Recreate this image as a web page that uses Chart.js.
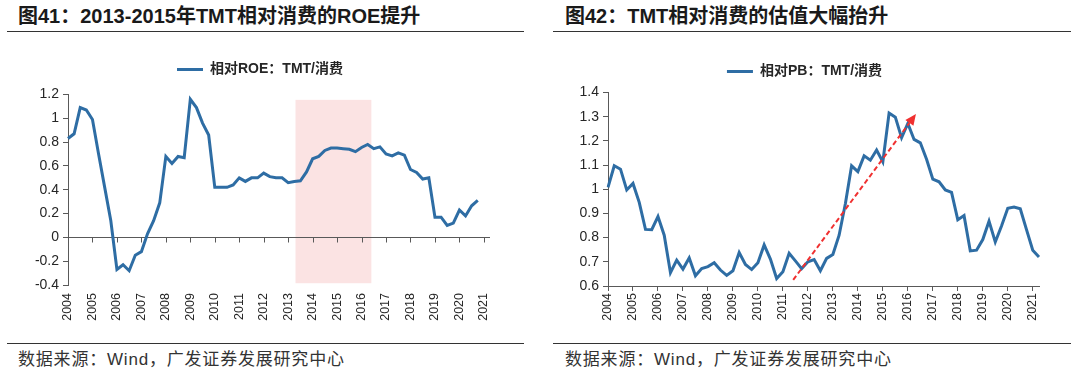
<!DOCTYPE html>
<html>
<head>
<meta charset="utf-8">
<script src="https://cdn.jsdelivr.net/npm/chart.js@4.4.1/dist/chart.umd.min.js"></script>
<style>
  html, body { margin: 0; padding: 0; background: #fff; }
  #page { position: relative; width: 1080px; height: 378px; overflow: hidden; background: #fff;
          font-family: 'Liberation Sans', 'Noto Sans CJK SC', sans-serif; color: #1a1a1a; }
  .title { position: absolute; top: 4px; font-size: 20px; line-height: 24px; font-weight: bold; white-space: nowrap; }
  .rule { position: absolute; height: 0; border-top: 1.5px solid #333; }
  .foot { position: absolute; top: 350px; font-size: 17px; line-height: 20px; letter-spacing: 0.8px; color: #333; white-space: nowrap; }
  .cv { position: absolute; top: 40px; width: 540px; height: 295px; }
</style>
</head>
<body>
<div id="page">
  <div class="title" style="left:18px;">图41：2013-2015年TMT相对消费的ROE提升</div>
  <div class="title" style="left:565px;">图42：TMT相对消费的估值大幅抬升</div>
  <div class="rule" style="left:7px; top:31px; width:517px;"></div>
  <div class="rule" style="left:553px; top:31px; width:518px;"></div>
  <div class="cv" style="left:0px;"><canvas id="c1" width="540" height="295"></canvas></div>
  <div class="cv" style="left:540px;"><canvas id="c2" width="540" height="295"></canvas></div>
  <div class="rule" style="left:7px; top:343px; width:517px;"></div>
  <div class="rule" style="left:553px; top:343px; width:518px;"></div>
  <div class="foot" style="left:18px;">数据来源：Wind，广发证券发展研究中心</div>
  <div class="foot" style="left:565px;">数据来源：Wind，广发证券发展研究中心</div>
</div>
<script>
// ---- categories (quarters) ----
const quarters = [
  '2004Q1','2004Q2','2004Q3','2004Q4','2005Q1','2005Q2','2005Q3','2005Q4',
  '2006Q1','2006Q2','2006Q3','2006Q4','2007Q1','2007Q2','2007Q3','2007Q4',
  '2008Q1','2008Q2','2008Q3','2008Q4','2009Q1','2009Q2','2009Q3','2009Q4',
  '2010Q1','2010Q2','2010Q3','2010Q4','2011Q1','2011Q2','2011Q3','2011Q4',
  '2012Q1','2012Q2','2012Q3','2012Q4','2013Q1','2013Q2','2013Q3','2013Q4',
  '2014Q1','2014Q2','2014Q3','2014Q4','2015Q1','2015Q2','2015Q3','2015Q4',
  '2016Q1','2016Q2','2016Q3','2016Q4','2017Q1','2017Q2','2017Q3','2017Q4',
  '2018Q1','2018Q2','2018Q3','2018Q4','2019Q1','2019Q2','2019Q3','2019Q4',
  '2020Q1','2020Q2','2020Q3','2020Q4','2021Q1','2021Q2'
];

// ---- series: relative ROE (TMT / consumption) ----
const roeRelative = [
  0.83, 0.87, 1.09, 1.07,
  0.99, 0.70, 0.42, 0.14,
  -0.27, -0.23, -0.28, -0.15,
  -0.12, 0.03, 0.14, 0.29,
  0.68, 0.62, 0.68, 0.67,
  1.16, 1.09, 0.96, 0.86,
  0.42, 0.42, 0.42, 0.44,
  0.50, 0.47, 0.50, 0.50,
  0.54, 0.51, 0.50, 0.50,
  0.46, 0.47, 0.475, 0.55,
  0.66, 0.68, 0.73, 0.75,
  0.75, 0.745, 0.74, 0.72,
  0.755, 0.78, 0.745, 0.76,
  0.70, 0.685, 0.71, 0.69,
  0.57, 0.545, 0.49, 0.50,
  0.17, 0.17, 0.10, 0.12,
  0.23, 0.18, 0.265, 0.31,
  null, null
];

// ---- series: relative PB (TMT / consumption) ----
const pbRelative = [
  1.008, 1.097, 1.083, 0.997,
  1.024, 0.946, 0.834, 0.833,
  0.887, 0.810, 0.655, 0.707,
  0.670, 0.716, 0.642, 0.672,
  0.680, 0.696, 0.666, 0.644,
  0.663, 0.738, 0.689, 0.668,
  0.696, 0.770, 0.711, 0.631,
  0.659, 0.735, 0.704, 0.672,
  0.700, 0.709, 0.663, 0.714,
  0.730, 0.810, 0.940, 1.097,
  1.073, 1.138, 1.120, 1.162,
  1.113, 1.315, 1.298, 1.213,
  1.272, 1.206, 1.192, 1.124,
  1.042, 1.031, 0.997, 0.987,
  0.874, 0.891, 0.745, 0.748,
  0.792, 0.868, 0.782, 0.848,
  0.921, 0.926, 0.919, 0.833,
  0.748, 0.720
];

// ---- tick labels ----
const roeYTicks = [-0.4, -0.2, 0, 0.2, 0.4, 0.6, 0.8, 1, 1.2];
const pbYTicks = [0.6, 0.7, 0.8, 0.9, 1, 1.1, 1.2, 1.3, 1.4];

// ---- annotations (in category-index / value units) ----
const shadeX = [37.2, 49.6];      // highlighted period 2013-2016
const shadeY = [-0.385, 1.155];
const arrowX = [29.65, 49.3];     // trend arrow on PB chart
const arrowY = [0.625, 1.311];

const names = ['相对ROE：TMT/消费', '相对PB：TMT/消费'];

Chart.defaults.font.family = "'Liberation Sans', 'Noto Sans CJK SC', sans-serif";
Chart.defaults.color = '#262626';

const LINE = '#2e6da4';
const AXIS = '#595959';
const CLEAR = 'rgba(0,0,0,0)';
const yearLabel = (v, i) => (i % 4 === 0 ? quarters[i].slice(0, 4) : '');
const yearTick = ctx => (ctx.index % 4 === 0 ? AXIS : CLEAR);

function yAxis(ticksArr, zeroLine) {
  return {
    position: 'left',
    min: ticksArr[0], max: ticksArr[ticksArr.length - 1],
    afterBuildTicks: s => { s.ticks = ticksArr.map(v => ({ value: v })); },
    afterFit: s => { s.width = 38; },
    border: { display: true, color: AXIS, width: 1 },
    grid: {
      display: true, drawOnChartArea: zeroLine, drawTicks: true, tickLength: 5, tickColor: AXIS,
      color: c => (zeroLine && c.tick && c.tick.value === 0 ? AXIS : CLEAR), lineWidth: 1
    },
    ticks: { font: { size: 14 }, color: '#262626', padding: 4,
             callback: v => String(Math.round(v * 10) / 10) }
  };
}

// extra space between legend and plot
function legendGap(px) {
  return {
    id: 'legendGap',
    beforeInit(chart) {
      const orig = chart.legend.fit;
      chart.legend.fit = function () { orig.call(this); this.height += px; };
    }
  };
}

const shadePlugin = {
  id: 'shade',
  beforeDraw(chart) {
    const { ctx } = chart;
    const x = chart.scales.x, y = chart.scales.y;
    const x1 = x.getPixelForValue(shadeX[0]), x2 = x.getPixelForValue(shadeX[1]);
    const y1 = y.getPixelForValue(shadeY[1]), y2 = y.getPixelForValue(shadeY[0]);
    ctx.save();
    ctx.fillStyle = '#fbe3e3';
    ctx.fillRect(x1, y1, x2 - x1, y2 - y1);
    ctx.restore();
  }
};

// year tick marks hanging below the zero line of the ROE chart
const zeroTicksPlugin = {
  id: 'zeroTicks',
  beforeDatasetsDraw(chart) {
    const { ctx } = chart;
    const x = chart.scales.x, y = chart.scales.y;
    const y0 = Math.round(y.getPixelForValue(0)) + 0.5;
    ctx.save();
    ctx.strokeStyle = AXIS;
    ctx.lineWidth = 1;
    ctx.beginPath();
    quarters.forEach((q, i) => {
      if (i % 4 !== 0) return;
      const px = Math.round(x.getPixelForValue(i)) + 0.5;
      ctx.moveTo(px, y0);
      ctx.lineTo(px, y0 + 5);
    });
    ctx.stroke();
    ctx.restore();
  }
};

const arrowPlugin = {
  id: 'arrow',
  afterDatasetsDraw(chart) {
    const { ctx } = chart;
    const x = chart.scales.x, y = chart.scales.y;
    const sx = x.getPixelForValue(arrowX[0]), sy = y.getPixelForValue(arrowY[0]);
    const ex = x.getPixelForValue(arrowX[1]), ey = y.getPixelForValue(arrowY[1]);
    const ang = Math.atan2(ey - sy, ex - sx);
    const head = 11, half = 5;
    const bx = ex - head * Math.cos(ang), by = ey - head * Math.sin(ang);
    ctx.save();
    ctx.strokeStyle = '#f03030';
    ctx.fillStyle = '#f03030';
    ctx.lineWidth = 2;
    ctx.setLineDash([5, 3]);
    ctx.beginPath(); ctx.moveTo(sx, sy); ctx.lineTo(bx, by); ctx.stroke();
    ctx.setLineDash([]);
    ctx.beginPath();
    ctx.moveTo(ex, ey);
    ctx.lineTo(bx + half * Math.sin(ang), by - half * Math.cos(ang));
    ctx.lineTo(bx - half * Math.sin(ang), by + half * Math.cos(ang));
    ctx.closePath(); ctx.fill();
    ctx.restore();
  }
};

function legendOpts(pad) {
  return {
    display: true, position: 'top', align: 'center',
    labels: {
      usePointStyle: true, pointStyle: 'line', pointStyleWidth: 26,
      padding: pad, color: '#262626',
      font: { size: 14, weight: 'bold' }
    }
  };
}

new Chart(document.getElementById('c1'), {
  type: 'line',
  data: {
    labels: quarters,
    datasets: [{
      label: names[0], data: roeRelative,
      borderColor: LINE, backgroundColor: LINE, borderWidth: 3,
      pointRadius: 0, tension: 0, xAxisID: 'x', yAxisID: 'y'
    }]
  },
  options: {
    responsive: false, animation: false,
    layout: { padding: { left: 30, right: 50, top: 16, bottom: 0 } },
    plugins: { legend: legendOpts(6.5), tooltip: { enabled: false } },
    scales: {
      x: {
        type: 'category', position: 'bottom',
        afterFit: s => { s.height = 50; },
        border: { display: false },
        grid: { display: false, drawTicks: false, tickLength: 0 },
        ticks: { autoSkip: false, minRotation: 90, maxRotation: 90, padding: 8,
                 font: { size: 12.5 }, color: '#262626', callback: yearLabel }
      },
      y: yAxis(roeYTicks, true)
    }
  },
  plugins: [legendGap(8), shadePlugin, zeroTicksPlugin]
});

new Chart(document.getElementById('c2'), {
  type: 'line',
  data: {
    labels: quarters,
    datasets: [{
      label: names[1], data: pbRelative,
      borderColor: LINE, backgroundColor: LINE, borderWidth: 3,
      pointRadius: 0, tension: 0, xAxisID: 'x', yAxisID: 'y'
    }]
  },
  options: {
    responsive: false, animation: false,
    layout: { padding: { left: 30, right: 41, top: 21, bottom: 0 } },
    plugins: { legend: legendOpts(3.5), tooltip: { enabled: false } },
    scales: {
      x: {
        type: 'category', position: 'bottom',
        afterFit: s => { s.height = 49; },
        border: { display: true, color: AXIS, width: 1 },
        grid: { display: true, drawOnChartArea: false, drawTicks: true, tickLength: 5, tickColor: yearTick },
        ticks: { autoSkip: false, minRotation: 90, maxRotation: 90, padding: 2,
                 font: { size: 12.5 }, color: '#262626', callback: yearLabel }
      },
      y: yAxis(pbYTicks, false)
    }
  },
  plugins: [legendGap(4), arrowPlugin]
});
</script>
</body>
</html>
